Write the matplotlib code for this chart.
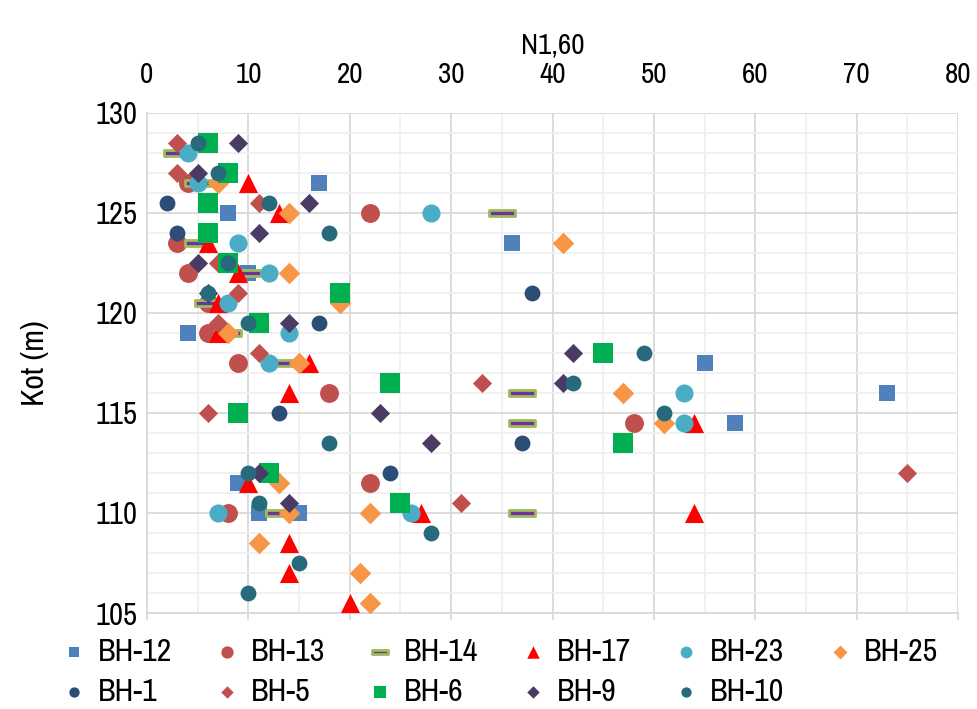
import matplotlib
matplotlib.use("Agg")
import matplotlib.pyplot as plt
from matplotlib import font_manager
from matplotlib.path import Path

fm = font_manager.fontManager.ttflist
narrow = [f.name for f in fm if ('Narrow' in f.name or 'Condensed' in f.name)]
if narrow:
    plt.rcParams['font.family'] = [narrow[0], 'DejaVu Sans']
else:
    plt.rcParams['font.family'] = ['Open Sans', 'DejaVu Sans']

# ---- data (N1,60 value, elevation) ----
bh12_x = [17, 8, 36, 10, 4, 55, 73, 58, 9, 11, 15]
bh12_y = [126.5, 125, 123.5, 122, 119, 117.5, 116, 114.5, 111.5, 110, 110]

bh13_x = [4, 22, 3, 4, 6, 6, 9, 18, 48, 22, 8]
bh13_y = [126.5, 125, 123.5, 122, 120.5, 119, 117.5, 116, 114.5, 111.5, 110]

bh14_x = [3, 5, 35, 5, 10, 6, 8, 14, 37, 37, 13, 37]
bh14_y = [128, 126.5, 125, 123.5, 122, 120.5, 119, 117.5, 116, 114.5, 110, 110]

bh17_x = [10, 13, 6, 9, 7, 7, 16, 14, 54, 10, 27, 54, 14, 14, 20]
bh17_y = [126.5, 125, 123.5, 122, 120.5, 119, 117.5, 116, 114.5, 111.5, 110, 110, 108.5, 107, 105.5]

bh23_x = [4, 5, 28, 9, 12, 8, 14, 12, 53, 53, 7, 26]
bh23_y = [128, 126.5, 125, 123.5, 122, 120.5, 119, 117.5, 116, 114.5, 110, 110]

bh25_x = [7, 14, 41, 14, 19, 8, 15, 47, 51, 13, 14, 22, 11, 21, 22]
bh25_y = [126.5, 125, 123.5, 122, 120.5, 119, 117.5, 116, 114.5, 111.5, 110, 110, 108.5, 107, 105.5]

bh1_x = [2, 3, 38, 17, 13, 37, 24]
bh1_y = [125.5, 124, 121, 119.5, 115, 113.5, 112]

bh5_x = [3, 3, 11, 7, 9, 7, 11, 33, 6, 75, 31]
bh5_y = [128.5, 127, 125.5, 122.5, 121, 119.5, 118, 116.5, 115, 112, 110.5]

bh6_x = [6, 8, 6, 6, 8, 19, 11, 45, 24, 9, 47, 12, 25]
bh6_y = [128.5, 127, 125.5, 124, 122.5, 121, 119.5, 118, 116.5, 115, 113.5, 112, 110.5]

bh9_x = [9, 5, 16, 11, 5, 6, 14, 42, 41, 23, 28, 11, 14]
bh9_y = [128.5, 127, 125.5, 124, 122.5, 121, 119.5, 118, 116.5, 115, 113.5, 112, 110.5]

bh10_x = [5, 7, 12, 18, 8, 6, 10, 49, 42, 51, 18, 10, 11, 28, 15, 10]
bh10_y = [128.5, 127, 125.5, 124, 122.5, 121, 119.5, 118, 116.5, 115, 113.5, 112, 110.5, 109, 107.5, 106]

x_ticks = [0, 10, 20, 30, 40, 50, 60, 70, 80]
y_ticks = [105, 110, 115, 120, 125, 130]

dash = Path([(-1, -0.24), (1, -0.24), (1, 0.24), (-1, 0.24), (-1, -0.24)],
            [Path.MOVETO, Path.LINETO, Path.LINETO, Path.LINETO, Path.CLOSEPOLY])

series = [
    ("BH-12", bh12_x, bh12_y, dict(marker='s', s=125, c='#4f81bd')),
    ("BH-13", bh13_x, bh13_y, dict(marker='o', s=185, c='#c0504d')),
    ("BH-14", bh14_x, bh14_y, dict(marker=dash, s=330, c='#7030a0', edgecolors='#9bbb59', linewidths=2.0)),
    ("BH-17", bh17_x, bh17_y, dict(marker='^', s=190, c='#ff0000')),
    ("BH-23", bh23_x, bh23_y, dict(marker='o', s=170, c='#4bacc6')),
    ("BH-25", bh25_x, bh25_y, dict(marker='D', s=120, c='#f79646')),
    ("BH-1", bh1_x, bh1_y, dict(marker='o', s=130, c='#2c4d75')),
    ("BH-5", bh5_x, bh5_y, dict(marker='D', s=95, c='#c0504d')),
    ("BH-6", bh6_x, bh6_y, dict(marker='s', s=190, c='#00b050')),
    ("BH-9", bh9_x, bh9_y, dict(marker='D', s=95, c='#4a3a64')),
    ("BH-10", bh10_x, bh10_y, dict(marker='o', s=130, c='#276a7c')),
]

fig = plt.figure(figsize=(9.78, 7.09), dpi=100)
ax = fig.add_axes([0.1503, 0.1354, 0.8293, 0.7056])

for i, (name, xs, ys, kw) in enumerate(series):
    kw = dict(kw)
    kw.setdefault('linewidths', 0)
    ax.scatter(xs, ys, label=name, zorder=3 + i * 0.01, **kw)

ax.set_xlim(0, 80)
ax.set_ylim(105, 130)
ax.set_xticks(x_ticks)
ax.set_yticks(y_ticks)
ax.set_xticks(range(0, 81, 5), minor=True)
ax.set_yticks(range(105, 131, 1), minor=True)
ax.grid(which='major', color='#d9d9d9', linewidth=1.3, zorder=0)
ax.grid(which='minor', color='#f0f0f0', linewidth=1.3, zorder=0)
ax.set_axisbelow(True)

for sp in ['top', 'right']:
    ax.spines[sp].set_visible(False)
ax.spines['left'].set_color('#d9d9d9')
ax.spines['bottom'].set_color('#d9d9d9')
ax.spines['left'].set_linewidth(1.3)
ax.spines['bottom'].set_linewidth(1.3)

ax.tick_params(axis='x', which='major', bottom=True, top=False, labelbottom=False,
               labeltop=True, length=5, color='#d9d9d9', width=1.3, pad=13,
               labelsize=21, labelcolor='#000000')
ax.tick_params(axis='x', which='minor', bottom=False, top=False)
ax.tick_params(axis='y', which='both', left=False, right=False, labelsize=22, pad=3)
ax.xaxis.set_label_position('top')
ax.set_xlabel("N1,60", fontsize=21, labelpad=5)
ax.set_ylabel("Kot (m)", fontsize=23, labelpad=34)

handles, labels = ax.get_legend_handles_labels()
order = [0, 6, 1, 7, 2, 8, 3, 9, 4, 10, 5]
leg = fig.legend([handles[k] for k in order], [labels[k] for k in order],
                 loc='lower left', bbox_to_anchor=(0.036, -0.036),
                 ncol=6, frameon=False, fontsize=23, markerscale=0.65,
                 handlelength=0.6, handletextpad=0.45, columnspacing=1.42,
                 labelspacing=0.38, scatterpoints=1)

fig.savefig("out.png", dpi=100)
